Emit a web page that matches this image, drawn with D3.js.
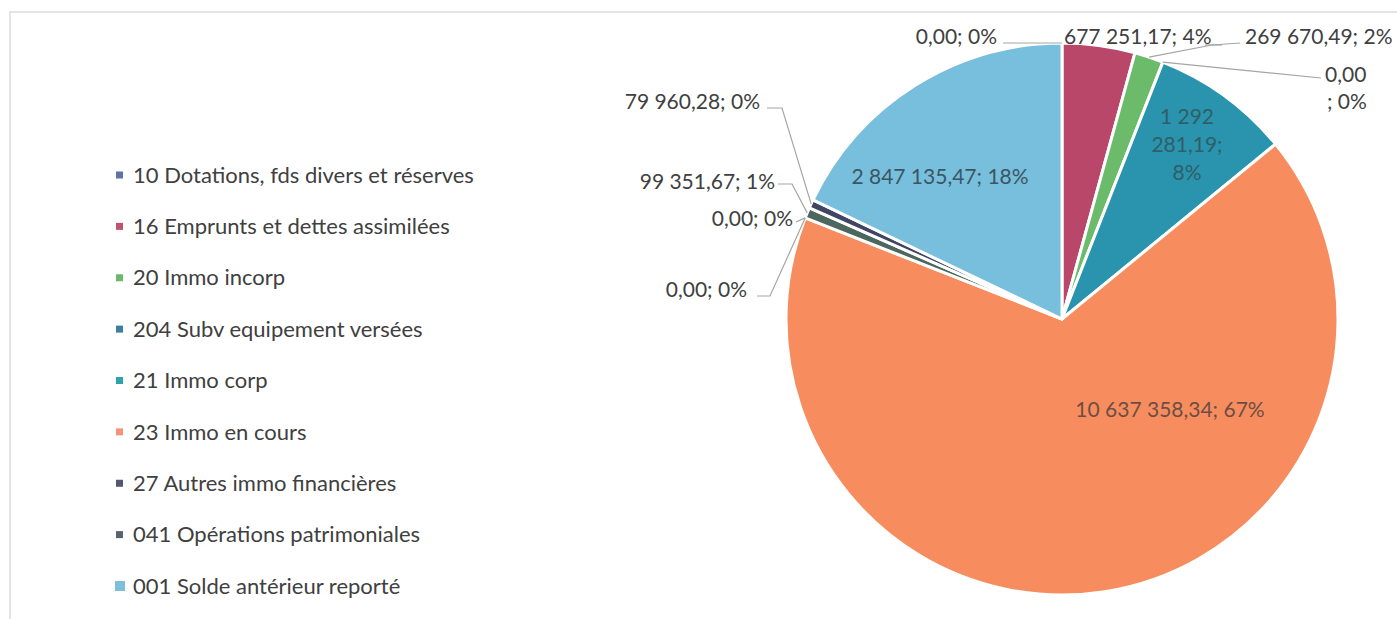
<!DOCTYPE html>
<html><head><meta charset="utf-8">
<script src="https://cdn.jsdelivr.net/npm/d3@7/dist/d3.min.js"></script>
<style>
html,body{margin:0;padding:0;background:#fff;}
svg{display:block;font-family:Lato,"Open Sans",sans-serif;}
</style></head>
<body>
<svg id="chart" width="1397" height="619"></svg>
<script>
// ---- data ----
const categories = [
  "10 Dotations, fds divers et réserves",
  "16 Emprunts et dettes assimilées",
  "20 Immo incorp",
  "204 Subv equipement versées",
  "21 Immo corp",
  "23 Immo en cours",
  "",
  "",
  "27 Autres immo financières",
  "041 Opérations patrimoniales",
  "001 Solde antérieur reporté"
];
const values = [0, 677251.17, 269670.49, 0, 1292281.19, 10637358.34, 0, 0, 99351.67, 79960.28, 2847135.47];
const percentLabels = ["0%", "4%", "2%", "0%", "8%", "67%", "0%", "0%", "1%", "0%", "18%"];
const legendItems = [
  "10 Dotations, fds divers et réserves",
  "16 Emprunts et dettes assimilées",
  "20 Immo incorp",
  "204 Subv equipement versées",
  "21 Immo corp",
  "23 Immo en cours",
  "27 Autres immo financières",
  "041 Opérations patrimoniales",
  "001 Solde antérieur reporté"
];

// ---- styles ----
const sliceColors = ["#5f72a8", "#b8476a", "#6cbb6b", "#3c7f9e", "#2a93ad", "#f78d5e", "#585f6b", "#585f6b", "#4b675e", "#3f4562", "#77bfdc"];
const legendColors = {
  "10 Dotations, fds divers et réserves": "#5f72a8",
  "16 Emprunts et dettes assimilées": "#bf526e",
  "20 Immo incorp": "#6cb86c",
  "204 Subv equipement versées": "#3c7f9e",
  "21 Immo corp": "#2ea3aa",
  "23 Immo en cours": "#f2937a",
  "27 Autres immo financières": "#535770",
  "041 Opérations patrimoniales": "#5a6270",
  "001 Solde antérieur reporté": "#7cc0dc"
};

const svg = d3.select("#chart");
const W = 1397, H = 619;

// frame
svg.append("rect").attr("x", 10).attr("y", 12).attr("width", W + 20).attr("height", H + 20)
  .attr("fill", "none").attr("stroke", "#dcdcdc").attr("stroke-width", 1.5);

// ---- legend ----
const legendY = d3.scalePoint().domain(legendItems).range([175, 586]);
const lg = svg.append("g").attr("font-size", 22).attr("fill", "#404040");
legendItems.forEach((name, i) => {
  const y = legendY(name);
  const big = i === legendItems.length - 1;
  const s = big ? 10 : 7;
  lg.append("rect").attr("x", big ? 115 : 116).attr("y", y - s / 2).attr("width", s).attr("height", s)
    .attr("fill", legendColors[name]);
  lg.append("text").attr("x", 133).attr("y", y).attr("dy", "0.35em").text(name);
});

// ---- pie ----
const cx = 1062, cy = 319, R = 276;
const pie = d3.pie().sort(null).value(d => d)(values);
const arc = d3.arc().innerRadius(0).outerRadius(R);
const g = svg.append("g").attr("transform", `translate(${cx},${cy})`);
g.selectAll("path").data(pie.filter(d => d.value > 0)).join("path")
  .attr("d", arc)
  .attr("fill", d => sliceColors[d.index])
  .attr("stroke", "#fff").attr("stroke-width", 3).attr("stroke-linejoin", "round");

// ---- labels ----
const fr = d3.formatLocale({decimal: ",", thousands: "\u00a0", grouping: [3], currency: ["", " €"]});
const fmt = fr.format(",.2f");
const labelText = i => `${fmt(values[i])}; ${percentLabels[i]}`;

function edge(i) {
  const p = pie[i];
  const a = (p.startAngle + p.endAngle) / 2;
  return [cx + R * Math.sin(a), cy - R * Math.cos(a)];
}

// outside labels layout: text anchor position, leader start, elbow
const outside = [
  {i: 0, x: 997, y: 37, anchor: "end", line: [[1003, 43]]},
  {i: 1, x: 1064, y: 37, anchor: "start", line: null},
  {i: 2, x: 1245, y: 37, anchor: "start", line: [[1240, 43], [1212, 45]]},
  {i: 9, x: 760, y: 102, anchor: "end", line: [[767, 108], [782, 108]]},
  {i: 8, x: 775, y: 182, anchor: "end", line: [[778, 184], [792, 184]]},
  {i: 7, x: 793, y: 219, anchor: "end", line: [[796, 222]]},
  {i: 6, x: 747, y: 290, anchor: "end", line: [[757, 296], [770, 296]]}
];
const lab = svg.append("g").attr("font-size", 21).attr("fill", "#404040");
const lines = svg.append("g").attr("fill", "none").attr("stroke", "#a5a5a5").attr("stroke-width", 1.2);
outside.forEach(o => {
  lab.append("text").attr("x", o.x).attr("y", o.y).attr("dy", "0.35em")
    .attr("text-anchor", o.anchor).text(labelText(o.i));
  if (o.line) lines.append("polyline").attr("points", [...o.line, edge(o.i)].map(p => p.join(",")).join(" "));
});
// underline segment below "4%"
lines.append("line").attr("x1", 1205).attr("y1", 45).attr("x2", 1222).attr("y2", 45);

// label for 204 split on two lines
{
  const i = 3;
  const t = lab.append("text").attr("x", 1325).attr("y", 75).attr("dy", "0.35em");
  t.append("tspan").text(fmt(values[i]));
  t.append("tspan").attr("x", 1327).attr("dy", 27).text("; " + percentLabels[i]);
  lines.append("polyline").attr("points", [[1321, 78], edge(i)].map(p => p.join(",")).join(" "));
}

// inside labels
const inside = svg.append("g").attr("font-size", 21).attr("text-anchor", "middle");
inside.append("text").attr("x", 940).attr("y", 177).attr("dy", "0.35em").attr("fill", "#3b5663").text(labelText(10));
inside.append("text").attr("x", 1170).attr("y", 410).attr("dy", "0.35em").attr("fill", "#6d4d43").text(labelText(5));
{
  const parts = fmt(values[4]).split("\u00a0");
  const t = inside.append("text").attr("x", 1187).attr("y", 117).attr("dy", "0.35em").attr("fill", "#2f5f68");
  t.append("tspan").attr("x", 1187).text(parts[0] + "\u00a0" + parts[1]);
  t.append("tspan").attr("x", 1187).attr("dy", 28).text(parts[2] + ";");
  t.append("tspan").attr("x", 1187).attr("dy", 28).text(percentLabels[4]);
}
</script>
</body></html>
